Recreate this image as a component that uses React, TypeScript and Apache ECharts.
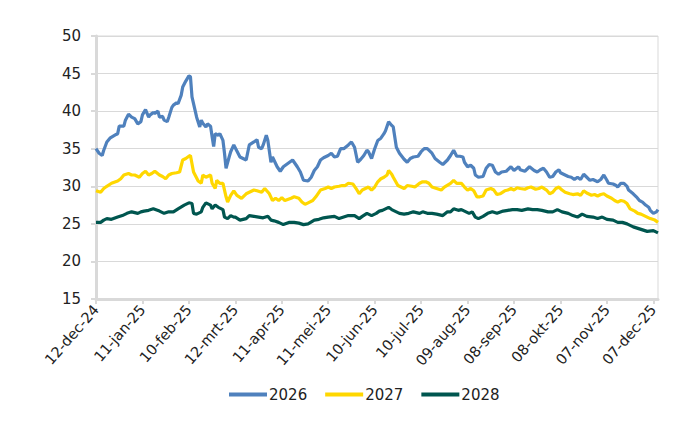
import React, { useEffect, useRef } from "react";
import * as echarts from "echarts";

// x = days since 12-dec-2024, y = value
const seriesNames = ["2026", "2027", "2028"];

const s2026: [number, number][] = [
  [0,35.0],[2,34.4],[4,34.1],[5,34.8],[7,35.9],[9,36.4],[13,36.9],[14,37.0],[15,38.0],[18,38.0],[19,38.8],[21,39.6],[23,39.2],[25,39.0],[27,38.3],[29,38.6],[30,39.5],[32,40.2],[34,39.2],[35,39.5],[37,39.8],[38,39.7],[40,40.0],[41,39.2],[43,39.3],[44,38.8],[46,38.6],[47,39.2],[49,40.5],[50,40.8],[52,41.1],[53,41.0],[55,42.1],[56,43.2],[58,44.0],[60,44.7],[61,44.6],[62,41.9],[64,40.1],[65,39.2],[67,37.9],[68,38.8],[69,38.4],[71,37.9],[72,38.3],[74,38.0],[75,36.6],[76,35.3],[77,37.0],[79,36.8],[80,37.0],[82,36.1],[83,34.4],[84,32.4],[86,33.9],[87,34.6],[89,35.5],
  [93,33.9],[97,33.5],[99,35.5],[102,35.9],[104,36.2],[105,35.2],[107,35.0],[108,35.5],[110,36.8],[111,36.1],[113,33.2],[114,33.9],[117,32.6],[119,32.0],[121,32.6],[125,33.2],[127,33.5],[130,32.6],[132,31.9],[134,30.8],[137,30.7],[139,31.2],[141,32.1],[143,32.6],[145,33.5],[147,33.8],[150,34.1],[152,34.4],[154,33.9],[156,34.0],[158,35.0],[160,35.0],[163,35.5],[165,35.9],[167,35.2],[169,33.2],[171,33.6],[173,34.1],[175,34.8],[176,34.6],[178,33.7],[180,35.0],[182,36.1],[184,36.4],[186,37.0],[187,37.4],[189,38.6],[191,38.1],[192,37.9],[194,35.2],[196,34.4],[199,33.6],[201,33.2],[203,33.7],[205,33.9],[208,34.0],[210,34.6],[212,35.0],[214,35.0],[217,34.4],[219,33.7],[222,33.2],[224,32.9],
  [227,33.5],[229,34.1],[231,34.8],[233,34.0],[235,34.0],[237,33.9],[238,33.2],[240,32.6],[242,32.8],[244,32.4],[245,31.5],[247,31.2],[250,31.3],[252,32.4],[254,32.9],[256,32.8],[258,31.9],[260,31.6],[262,31.9],[265,32.0],[267,32.4],[268,32.6],[270,32.1],[273,32.6],[274,32.2],[277,32.0],[279,32.4],[280,32.6],[283,32.1],[285,31.9],[287,32.2],[289,32.4],[291,31.9],[293,31.2],[295,31.3],[297,31.9],[299,32.2],[300,31.8],[302,31.6],[305,31.3],[307,31.2],[309,30.9],[311,31.2],[313,30.9],[315,31.6],[317,31.2],[319,30.8],[321,30.9],[324,30.6],[326,30.9],[328,31.5],[330,30.8],[331,30.4],[334,30.3],[336,30.1],[337,29.9],[339,30.4],[341,30.4],[343,30.0],[344,29.5],[347,29.0],[349,28.6],[351,28.1],[353,27.9],[355,27.5],[357,27.2],[358,26.8],[360,26.4],[362,26.6],[363,26.9]
];

const s2027: [number, number][] = [
  [0,29.4],[3,29.2],[5,29.7],[7,30.0],[10,30.4],[14,30.7],[16,31.0],[18,31.5],[21,31.7],[23,31.5],[25,31.5],[28,31.2],[30,31.7],[32,32.0],[34,31.5],[36,31.7],[38,32.0],[41,31.5],[43,31.3],[45,31.0],[47,31.5],[49,31.7],[52,31.8],[54,31.9],[56,33.5],[58,33.7],[60,34.0],[61,34.1],[63,31.9],[64,31.5],[66,30.7],[68,30.4],[69,31.5],[71,31.2],[74,31.5],[75,30.4],[77,29.7],[78,30.8],[80,30.4],[82,30.4],[84,28.6],[85,27.9],[87,28.8],[89,29.4],
  [91,28.8],[94,28.4],[97,29.0],[99,29.2],[102,29.5],[104,29.4],[107,29.2],[109,29.7],[112,29.0],[114,28.1],[116,28.4],[118,28.1],[120,28.5],[122,28.1],[126,28.4],[128,28.6],[131,28.4],[133,27.9],[135,27.6],[137,27.8],[140,28.1],[142,28.6],[145,29.5],[148,29.7],[150,29.9],[152,29.7],[154,29.9],[157,30.0],[159,30.1],[161,30.1],[163,30.4],[166,30.3],[168,29.7],[170,29.0],[172,29.5],[174,29.7],[176,29.9],[178,29.5],[180,29.9],[182,30.6],[184,31.0],[186,31.2],[188,31.5],[189,32.1],[191,31.6],[192,31.2],[195,30.1],[197,29.9],[199,29.7],[201,30.1],[204,30.0],[206,29.9],[209,30.4],[211,30.6],[213,30.6],[215,30.4],[217,29.9],[220,29.7],[223,29.5],[225,29.9],
  [229,30.4],[231,30.8],[233,30.4],[236,30.4],[238,29.9],[240,29.5],[242,29.7],[244,29.4],[246,28.6],[248,28.6],[250,28.7],[252,29.5],[255,29.7],[257,29.5],[259,28.9],[261,29.0],[264,29.4],[266,29.5],[268,29.7],[270,29.5],[272,29.8],[274,29.7],[277,29.6],[279,29.8],[281,29.9],[284,29.6],[286,29.7],[288,29.9],[291,29.5],[293,29.0],[295,29.2],[297,29.7],[299,29.9],[301,29.5],[303,29.2],[306,29.0],[308,28.9],[311,29.0],[313,28.8],[315,29.4],[317,29.1],[320,28.8],[322,28.9],[324,28.7],[326,28.9],[328,29.0],[330,28.7],[333,28.4],[335,28.1],[337,27.9],[339,28.1],[341,28.0],[343,27.7],[345,27.0],[348,26.7],[350,26.4],[352,26.3],[354,26.1],[356,25.9],[358,25.7],[361,25.5],[363,25.2]
];

const s2028: [number, number][] = [
  [0,25.2],[3,25.2],[5,25.5],[7,25.7],[10,25.6],[14,25.9],[17,26.1],[20,26.4],[23,26.6],[27,26.4],[29,26.6],[31,26.7],[34,26.8],[37,27.0],[41,26.7],[44,26.4],[47,26.6],[50,26.6],[53,27.0],[57,27.5],[60,27.8],[62,27.7],[63,26.4],[65,26.3],[68,26.6],[69,27.2],[71,27.8],[74,27.5],[75,27.0],[77,27.5],[79,27.2],[82,26.9],[83,25.9],[85,25.7],[87,26.1],[89,25.9],
  [90,25.9],[93,25.5],[97,25.7],[99,26.1],[102,26.0],[105,25.9],[108,25.8],[111,26.0],[113,25.5],[115,25.4],[118,25.2],[121,24.9],[125,25.2],[128,25.2],[131,25.1],[134,24.9],[137,25.0],[141,25.5],[144,25.6],[147,25.8],[150,25.9],[154,26.0],[157,25.7],[160,25.9],[163,26.1],[167,26.1],[170,25.7],[172,26.0],[175,26.4],[178,26.1],[181,26.4],[183,26.7],[185,26.8],[187,27.0],[189,27.2],[191,26.9],[194,26.6],[196,26.4],[199,26.3],[202,26.4],[205,26.6],[209,26.4],[211,26.6],[214,26.4],[217,26.4],[220,26.3],[224,26.1],[227,26.6],
  [229,26.6],[231,27.0],[234,26.8],[236,26.9],[239,26.6],[241,26.4],[243,26.6],[245,25.9],[247,25.7],[250,26.0],[253,26.4],[256,26.6],[259,26.4],[263,26.7],[266,26.8],[269,26.9],[272,26.9],[275,26.8],[279,27.0],[282,26.9],[285,26.9],[288,26.8],[292,26.6],[295,26.6],[298,26.9],[301,26.6],[305,26.4],[308,26.1],[311,25.9],[314,26.3],[317,26.0],[321,25.9],[324,25.7],[327,25.9],[330,25.6],[334,25.5],[337,25.2],[340,25.2],[343,25.0],[347,24.6],[350,24.4],[353,24.2],[356,24.0],[360,24.1],[363,23.8]
];

const xTickDays = [0, 30, 60, 90, 120, 150, 180, 210, 240, 270, 300, 330, 360];
const xTickLabels = [
  "12-dec-24", "11-jan-25", "10-feb-25", "12-mrt-25", "11-apr-25", "11-mei-25",
  "10-jun-25", "10-jul-25", "09-aug-25", "08-sep-25", "08-okt-25", "07-nov-25", "07-dec-25",
];

const colors = ["#4f81bd", "#ffd700", "#00564f"];
const FONT = "DejaVu Sans";
const GRAY = "#d9d9d9";
const TEXT = "#222222";

export default function App() {
  const ref = useRef<HTMLDivElement>(null);
  useEffect(() => {
    if (!ref.current) return;
    const chart = echarts.init(ref.current, undefined, { renderer: "svg" });
    const all = [s2026, s2027, s2028];
    chart.setOption({
      animation: false,
      textStyle: { fontFamily: FONT },
      grid: {
        left: 96, right: 42, top: 36, bottom: 131,
        show: true, borderColor: GRAY, borderWidth: 1,
      },
      legend: {
        left: 224, top: 382,
        icon: "rect", itemWidth: 38, itemHeight: 4, itemGap: 18,
        textStyle: { fontFamily: FONT, fontSize: 15, color: TEXT, padding: [0, 0, 0, -3] },
        data: seriesNames,
      },
      xAxis: {
        type: "value", min: 0, max: 363, interval: 30,
        axisLine: { show: true, lineStyle: { color: GRAY, width: 3 } },
        axisTick: { show: true, length: 5, lineStyle: { color: GRAY, width: 2 }, customValues: xTickDays },
        splitLine: { show: false },
        axisLabel: {
          rotate: 49, margin: 8, fontFamily: FONT, fontSize: 14.5, color: TEXT,
          customValues: xTickDays,
          formatter: (v: number) => {
            const i = xTickDays.indexOf(Math.round(v));
            return i >= 0 ? xTickLabels[i] : "";
          },
        },
      },
      yAxis: {
        type: "value", min: 15, max: 50, interval: 5,
        axisLine: { show: true, lineStyle: { color: GRAY, width: 3 } },
        axisTick: { show: true, length: 5, lineStyle: { color: GRAY, width: 2 } },
        splitLine: { show: true, lineStyle: { color: GRAY, width: 1 } },
        axisLabel: { margin: 15, fontFamily: FONT, fontSize: 15, color: TEXT },
      },
      series: seriesNames.map((name, i) => ({
        name, type: "line", data: all[i], showSymbol: false, symbol: "none",
        lineStyle: { color: colors[i], width: 3.2 }, itemStyle: { color: colors[i] },
      })),
    });
    return () => chart.dispose();
  }, []);
  return <div ref={ref} style={{ position: "absolute", left: 0, top: 0, width: 700, height: 430 }} />;
}
